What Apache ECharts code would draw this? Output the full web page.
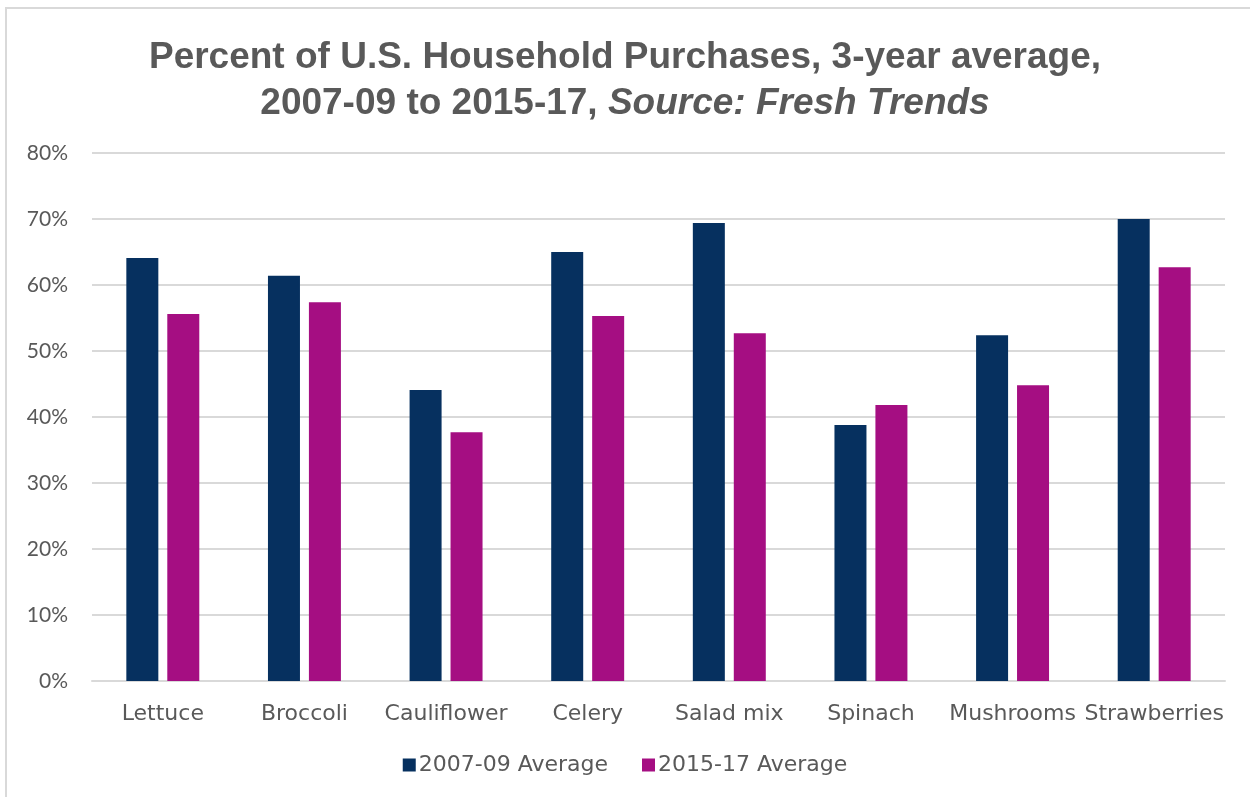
<!DOCTYPE html>
<html>
<head>
<meta charset="utf-8">
<script src="https://cdn.jsdelivr.net/npm/echarts@6/dist/echarts.min.js"></script>
<style>
  html, body { margin: 0; padding: 0; background: #fff; }
  #frame { position: absolute; left: 5px; top: 7px; width: 1250px; height: 800px; border: 2px solid #d9d9d9; box-sizing: border-box; }
  #chart { position: absolute; left: 0; top: 0; width: 1250px; height: 797px; }
</style>
</head>
<body>
<div id="frame"></div>
<div id="chart"></div>
<script>
// categories and values (percent)
const categories = ['Lettuce', 'Broccoli', 'Cauliflower', 'Celery', 'Salad mix', 'Spinach', 'Mushrooms', 'Strawberries']
const avg0709 = [64.1, 61.4, 44.1, 65.0, 69.4, 38.8, 52.4, 70.0]
const avg1517 = [55.6, 57.4, 37.7, 55.3, 52.7, 41.8, 44.8, 62.7]
const seriesNames = ['2007-09 Average', '2015-17 Average']

const labelFont = 'Lato, "DejaVu Sans", sans-serif'
const wideFont = '"DejaVu Sans", sans-serif'

const chart = echarts.init(document.getElementById('chart'))
chart.setOption({
  animation: false,
  title: {
    text: 'Percent of U.S. Household Purchases, 3-year average,\n2007-09 to 2015-17, {i|Source: Fresh Trends}',
    left: 'center',
    top: 30,
    textStyle: {
      fontFamily: '"Liberation Sans", Arial, sans-serif',
      fontWeight: 'bold',
      fontSize: 37,
      color: '#595959',
      lineHeight: 46,
      rich: {
        i: {
          fontFamily: '"Liberation Sans", Arial, sans-serif',
          fontWeight: 'bold',
          fontStyle: 'italic',
          fontSize: 37,
          color: '#595959'
        }
      }
    }
  },
  legend: {
    bottom: 16,
    left: 'center',
    itemWidth: 13,
    itemHeight: 13,
    itemGap: 34,
    icon: 'rect',
    textStyle: { fontFamily: wideFont, fontSize: 22, color: '#595959', padding: [0, 0, 0, -2] },
    data: seriesNames
  },
  grid: { left: 92, right: 25, top: 153, bottom: 116, containLabel: false },
  xAxis: {
    type: 'category',
    data: categories,
    axisLine: { lineStyle: { color: '#d9d9d9', width: 2 } },
    axisTick: { show: false },
    axisLabel: { fontFamily: wideFont, fontSize: 22, color: '#595959', margin: 22, interval: 0 }
  },
  yAxis: {
    type: 'value',
    min: 0,
    max: 80,
    interval: 10,
    axisLine: { show: false },
    axisTick: { show: false },
    splitLine: { lineStyle: { color: '#d9d9d9', width: 2 } },
    axisLabel: { formatter: '{value}%', fontFamily: labelFont, fontSize: 21, color: '#595959', margin: 24 }
  },
  series: [
    { name: seriesNames[0], type: 'bar', data: avg0709, barWidth: 32, barGap: '28%', itemStyle: { color: '#06305f' } },
    { name: seriesNames[1], type: 'bar', data: avg1517, barWidth: 32, itemStyle: { color: '#a50e82' } }
  ]
})
</script>
</body>
</html>
